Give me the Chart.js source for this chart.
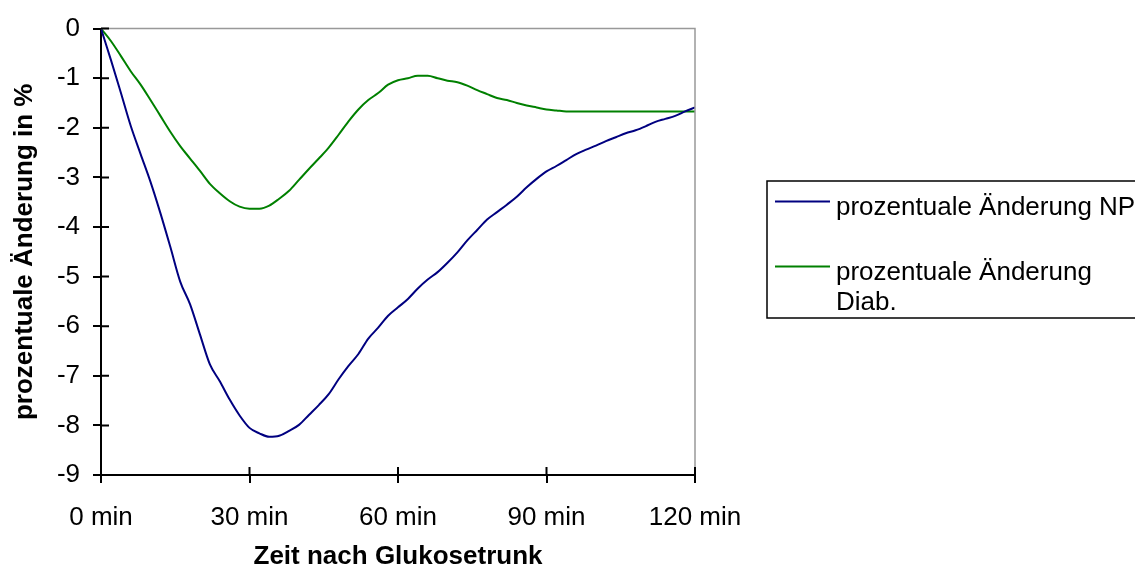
<!DOCTYPE html>
<html>
<head>
<meta charset="utf-8">
<script src="https://cdn.jsdelivr.net/npm/chart.js@4/dist/chart.umd.min.js"></script>
<style>
  body { margin: 0; background: #fff; overflow: hidden; }
  canvas { display: block; }
</style>
</head>
<body>
<canvas id="myChart" width="1135" height="570"></canvas>
<script>
// minutes after the glucose drink, sampled every 2 min
const minutes = [
  0, 2, 4, 6, 8, 10, 12, 14, 16, 18, 20, 22, 24, 26, 28, 30, 32, 34, 36, 38,
  40, 42, 44, 46, 48, 50, 52, 54, 56, 58, 60, 62, 64, 66, 68, 70, 72, 74, 76, 78,
  80, 82, 84, 86, 88, 90, 92, 94, 96, 98, 100, 102, 104, 106, 108, 110, 112, 114, 116, 118, 120
];

const changeNP = [
  0, -0.63, -1.29, -1.96, -2.53, -3.09, -3.72, -4.40, -5.10, -5.56, -6.17, -6.77, -7.11, -7.48, -7.80, -8.05, -8.16, -8.23, -8.21, -8.11,
  -7.99, -7.79, -7.59, -7.37, -7.07, -6.80, -6.56, -6.25, -6.03, -5.79, -5.62, -5.45, -5.24, -5.06, -4.91, -4.72, -4.51, -4.27, -4.06, -3.85,
  -3.70, -3.55, -3.39, -3.20, -3.03, -2.88, -2.77, -2.65, -2.53, -2.44, -2.36, -2.27, -2.19, -2.11, -2.05, -1.97, -1.88, -1.82, -1.76, -1.67, -1.59
];

const changeDiab = [
  0, -0.25, -0.55, -0.86, -1.13, -1.44, -1.76, -2.08, -2.37, -2.62, -2.87, -3.13, -3.32, -3.48, -3.59, -3.63, -3.63, -3.57, -3.43, -3.27,
  -3.05, -2.83, -2.62, -2.40, -2.14, -1.87, -1.63, -1.44, -1.30, -1.13, -1.04, -1.00, -0.95, -0.95, -1.00, -1.05, -1.08, -1.15, -1.24, -1.32,
  -1.40, -1.44, -1.50, -1.55, -1.59, -1.63, -1.65, -1.67, -1.67, -1.67, -1.67, -1.67, -1.67, -1.67, -1.67, -1.67, -1.67, -1.67, -1.67, -1.67, -1.67
];

const legendLines = [
  ['prozentuale Änderung NP'],
  ['prozentuale Änderung', 'Diab.']
];

const FONT = '"Liberation Sans", Arial, sans-serif';

const toPoints = (vals) => vals.map((v, i) => ({ x: minutes[i], y: v }));

// frame (grey top/right), inner halves of the tick marks, and the boxed legend
const extrasPlugin = {
  id: 'extras',
  afterDraw(chart) {
    const { ctx, chartArea: a, scales } = chart;
    ctx.save();
    ctx.strokeStyle = '#999';
    ctx.lineWidth = 1.5;
    ctx.beginPath();
    ctx.moveTo(a.left, a.top);
    ctx.lineTo(a.right, a.top);
    ctx.lineTo(a.right, a.bottom);
    ctx.stroke();

    ctx.strokeStyle = '#000';
    ctx.lineWidth = 2;
    ctx.beginPath();
    scales.y.ticks.forEach((t) => {
      const py = scales.y.getPixelForValue(t.value);
      ctx.moveTo(a.left, py);
      ctx.lineTo(a.left + 8, py);
    });
    scales.x.ticks.forEach((t) => {
      const px = scales.x.getPixelForValue(t.value);
      ctx.moveTo(px, a.bottom);
      ctx.lineTo(px, a.bottom - 8);
    });
    ctx.stroke();

    // legend
    ctx.lineWidth = 1.5;
    ctx.strokeStyle = '#000';
    ctx.strokeRect(767, 181, 500, 137);
    ctx.font = '26px ' + FONT;
    ctx.fillStyle = '#000';
    ctx.textBaseline = 'alphabetic';
    const rowTop = [215, 280];
    chart.data.datasets.forEach((ds, i) => {
      const base = rowTop[i];
      ctx.strokeStyle = ds.borderColor;
      ctx.lineWidth = 2;
      ctx.beginPath();
      ctx.moveTo(775, base - 13.5);
      ctx.lineTo(830, base - 13.5);
      ctx.stroke();
      legendLines[i].forEach((txt, j) => {
        ctx.fillText(txt, 836, base + j * 30);
      });
    });
    ctx.restore();
  }
};

new Chart(document.getElementById('myChart'), {
  type: 'line',
  data: {
    datasets: [
      {
        label: 'prozentuale Änderung NP',
        data: toPoints(changeNP),
        borderColor: '#000080',
        borderWidth: 2,
        pointRadius: 0,
        cubicInterpolationMode: 'monotone',
        fill: false
      },
      {
        label: 'prozentuale Änderung Diab.',
        data: toPoints(changeDiab),
        borderColor: '#008000',
        borderWidth: 2,
        pointRadius: 0,
        cubicInterpolationMode: 'monotone',
        fill: false
      }
    ]
  },
  options: {
    responsive: false,
    animation: false,
    layout: { padding: { left: 0, right: 440, top: 25, bottom: 0 } },
    plugins: {
      legend: { display: false },
      tooltip: { enabled: false }
    },
    scales: {
      x: {
        type: 'linear',
        min: 0,
        max: 120,
        afterFit: (scale) => { scale.height = 95; },
        ticks: {
          stepSize: 30,
          color: '#000',
          padding: 19,
          maxRotation: 0,
          font: { family: FONT, size: 26 },
          callback: (v) => v + ' min'
        },
        grid: { drawOnChartArea: false, tickLength: 8, color: '#000', lineWidth: 2 },
        border: { display: true, color: '#000', width: 2 },
        title: {
          display: true,
          text: 'Zeit nach Glukosetrunk',
          color: '#000',
          padding: 0,
          font: { family: FONT, size: 26, weight: 'bold', lineHeight: 1 }
        }
      },
      y: {
        min: -9,
        max: 0,
        afterFit: (scale) => { scale.width = 101; },
        ticks: {
          stepSize: 1,
          color: '#000',
          padding: 13,
          font: { family: FONT, size: 26 }
        },
        grid: { drawOnChartArea: false, tickLength: 8, color: '#000', lineWidth: 2 },
        border: { display: true, color: '#000', width: 2 },
        title: {
          display: true,
          text: 'prozentuale Änderung in %',
          color: '#000',
          padding: { top: 12, bottom: 0 },
          font: { family: FONT, size: 26, weight: 'bold', lineHeight: 1 }
        }
      }
    }
  },
  plugins: [extrasPlugin]
});
</script>
</body>
</html>
